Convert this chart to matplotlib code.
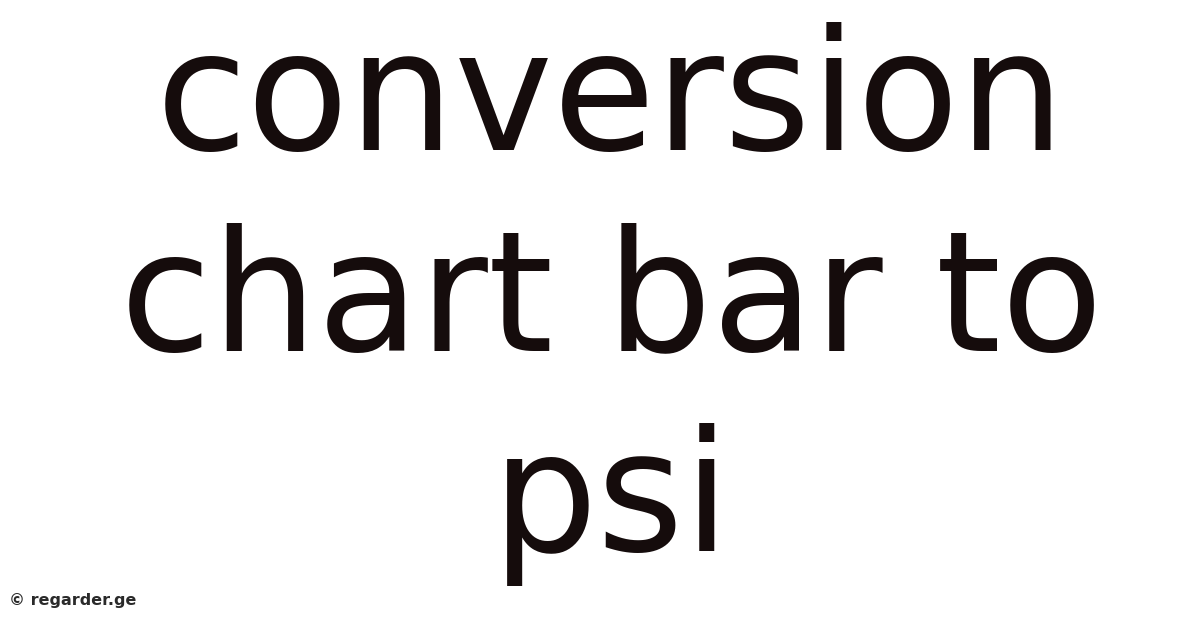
import matplotlib
matplotlib.use("Agg")
import matplotlib.pyplot as plt

# title lines and footer text
title_lines = ["conversion", "chart bar to", "psi"]
baselines_px = [150, 350, 551]
footer = "\u00a9 regarder.ge"

W, H = 1200, 628
fig = plt.figure(figsize=(W / 100, H / 100), dpi=100)
fig.patch.set_facecolor("white")

for line, y in zip(title_lines, baselines_px):
    fig.text(611 / W, 1 - y / H, line, ha="center", va="baseline",
             fontsize=120, color="#150c0c", family="DejaVu Sans")

fig.text(9 / W, 1 - 605 / H, footer, ha="left", va="baseline",
         fontsize=11.5, fontweight="bold", color="#2a2a2a",
         family="DejaVu Sans")

fig.savefig("out.png", dpi=100, facecolor="white")
